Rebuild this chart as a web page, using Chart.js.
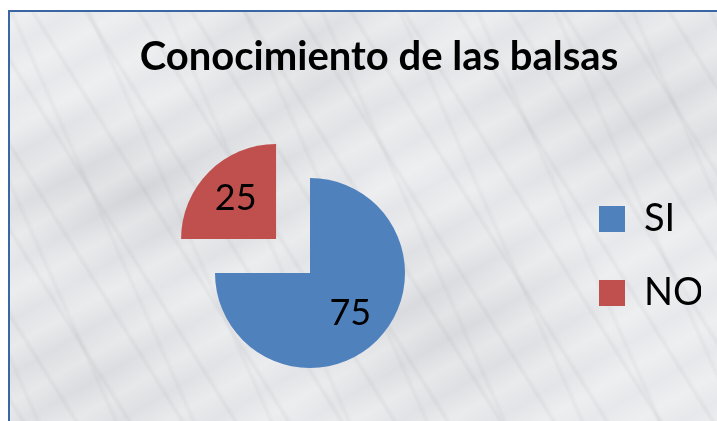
<!DOCTYPE html>
<html>
<head>
<meta charset="utf-8">
<script src="https://cdn.jsdelivr.net/npm/chart.js@4/dist/chart.umd.min.js"></script>
<style>
  html, body { margin: 0; padding: 0; background: #fff; overflow: hidden; }
  #frame {
    position: absolute; left: 8px; top: 10px; width: 730px; height: 430px;
    border-left: 2px solid #3a66a4; border-top: 2px solid #3a66a4;
    background-color: #e7e8eb;
    background-image:
      repeating-linear-gradient(58deg, rgba(110,112,118,0) 0px, rgba(110,112,118,0) 19px, rgba(110,112,118,0.07) 22px, rgba(110,112,118,0) 26px, rgba(110,112,118,0) 45px),
      repeating-linear-gradient(66deg, rgba(110,112,118,0) 0px, rgba(110,112,118,0) 31px, rgba(110,112,118,0.06) 34px, rgba(110,112,118,0) 38px, rgba(110,112,118,0) 71px),
      repeating-linear-gradient(-30deg, rgba(255,255,255,0) 0px, rgba(255,255,255,0.30) 23px, rgba(255,255,255,0) 47px),
      radial-gradient(ellipse at 18% 42%, rgba(140,142,148,0.22), rgba(140,142,148,0) 28%),
      radial-gradient(ellipse at 58% 72%, rgba(140,142,148,0.18), rgba(140,142,148,0) 32%),
      radial-gradient(ellipse at 86% 22%, rgba(140,142,148,0.16), rgba(140,142,148,0) 28%),
      radial-gradient(ellipse at 40% 12%, rgba(140,142,148,0.14), rgba(140,142,148,0) 25%),
      radial-gradient(ellipse at 10% 85%, rgba(140,142,148,0.14), rgba(140,142,148,0) 25%);
  }
  #wrap { position: absolute; left: 0; top: 0; width: 717px; height: 421px; }
</style>
</head>
<body>
<div id="frame"></div>
<div id="wrap"><canvas id="pieChart" width="717" height="421"></canvas></div>
<script>
const categories = ["SI", "NO"];
const values = [75, 25];
const sliceColors = ["#4f81bd", "#c0504d"];
// how far each slice is pulled out, in px
const explode = [0, 48];

// draws the value inside each slice, like the Excel data labels
const sliceLabels = {
  id: "sliceLabels",
  afterDatasetsDraw(chart) {
    const ctx = chart.ctx;
    const meta = chart.getDatasetMeta(0);
    ctx.save();
    ctx.font = "36px Lato";
    ctx.fillStyle = "#000";
    ctx.textAlign = "center";
    ctx.textBaseline = "middle";
    meta.data.forEach((arc, i) => {
      const p = arc.getProps(["x", "y", "startAngle", "endAngle", "outerRadius"], true);
      const mid = (p.startAngle + p.endAngle) / 2;
      const d = explode[i] + p.outerRadius * 0.6;
      ctx.fillText(String(values[i]), p.x + Math.cos(mid) * d, p.y + Math.sin(mid) * d);
    });
    ctx.restore();
  }
};

const ctx = document.getElementById("pieChart").getContext("2d");
new Chart(ctx, {
  type: "pie",
  data: {
    labels: categories,
    datasets: [{
      data: values,
      backgroundColor: sliceColors,
      borderWidth: 0,
      // arc draw moves a slice by offset / 4
      offset: explode.map(e => e * 4),
      hoverOffset: 0,
      clip: false
    }]
  },
  options: {
    responsive: false,
    animation: false,
    radius: 95,
    layout: { padding: { left: 57, right: 16, top: 0, bottom: 39 } },
    plugins: {
      tooltip: { enabled: false },
      title: {
        display: true,
        text: "Conocimiento de las balsas",
        color: "#000",
        font: { family: "Lato", size: 40, weight: "bold" },
        padding: { top: 33, bottom: 83 }
      },
      legend: {
        position: "right",
        align: "start",
        fullSize: false,
        maxWidth: 138,
        labels: {
          color: "#000",
          font: { family: "Lato", size: 38 },
          boxWidth: 26,
          boxHeight: 26,
          padding: 36
        }
      }
    }
  },
  plugins: [sliceLabels]
});
</script>
</body>
</html>
